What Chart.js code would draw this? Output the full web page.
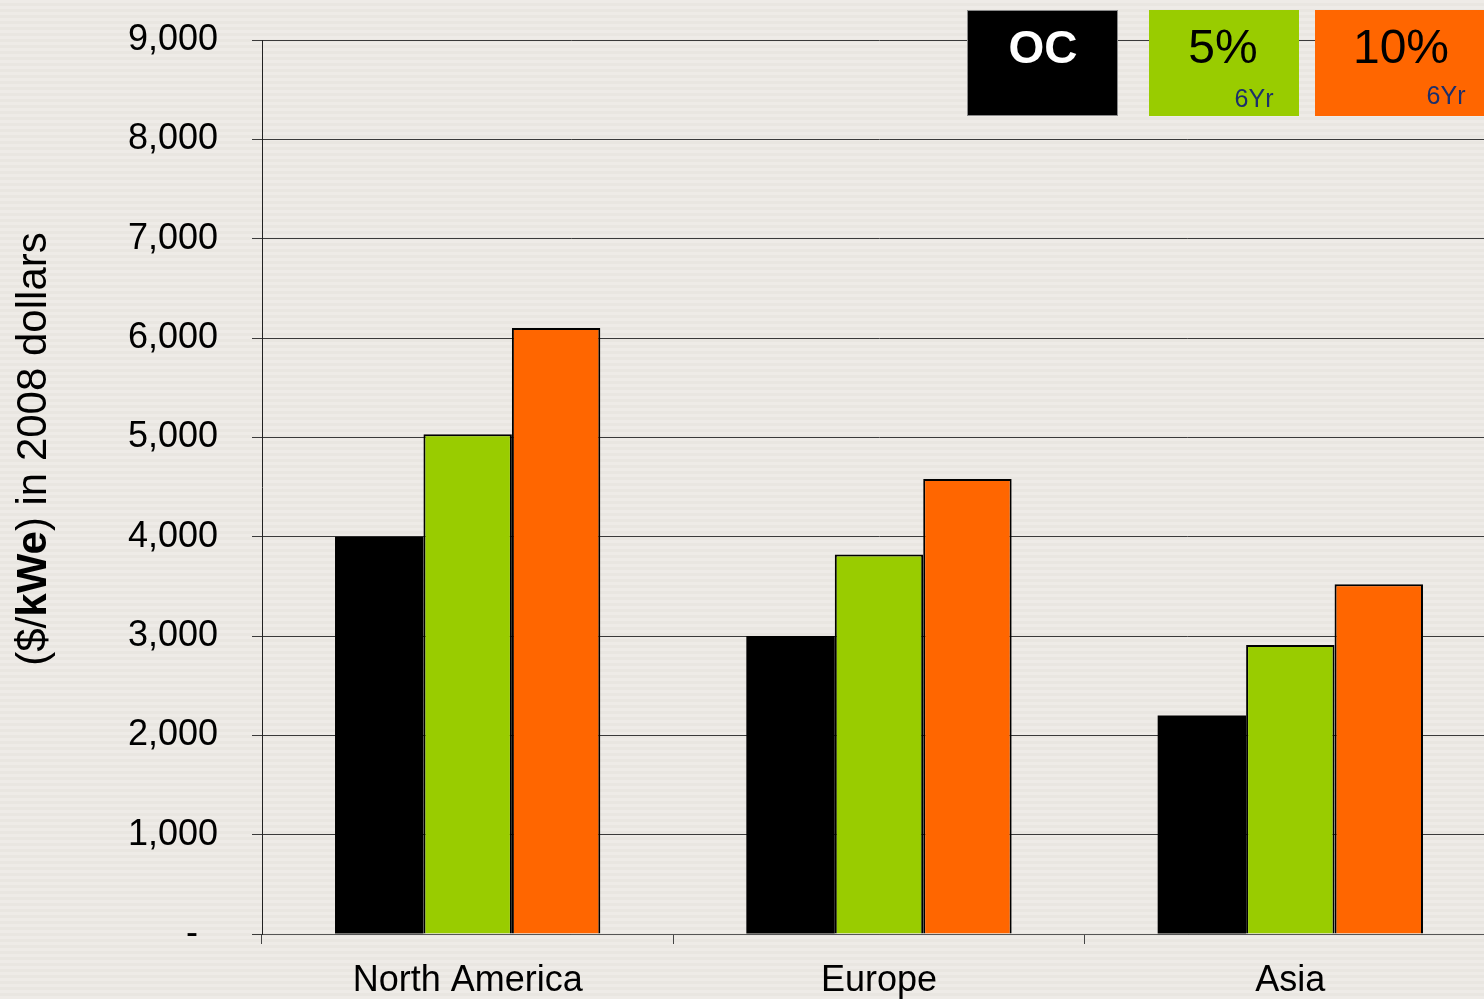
<!DOCTYPE html>
<html>
<head>
<meta charset="utf-8">
<script src="https://cdn.jsdelivr.net/npm/chart.js@4/dist/chart.umd.min.js"></script>
<style>
  html, body { margin: 0; padding: 0; overflow: hidden; }
  body {
    width: 1484px; height: 999px;
    background: repeating-linear-gradient(to bottom, #eeebe7 0px, #eeebe7 3px, #e9e6e1 3px, #e9e6e1 6px);
  }
  #wrap { position: absolute; left: 0; top: 0; width: 1496px; height: 999px; }
</style>
</head>
<body>
<div id="wrap"><canvas id="myChart" width="1496" height="999"></canvas></div>
<script>
const regions = ['North America', 'Europe', 'Asia'];
const ocCost = [4000, 3000, 2200];
const rate5Cost = [5030, 3820, 2910];
const rate10Cost = [6100, 4580, 3520];
const seriesNames = ['OC', '5%', '10%'];
const seriesSub = ['', '6Yr', '6Yr'];
const yTicks = [0, 1000, 2000, 3000, 4000, 5000, 6000, 7000, 8000, 9000];

const FONT = "'Liberation Sans', Arial, sans-serif";

// y title (mixed bold) and the boxed legend at top right
const extras = {
  id: 'extras',
  afterDraw(chart) {
    const ctx = chart.ctx;
    ctx.save();
    // axis title
    ctx.translate(34, 449);
    ctx.rotate(-Math.PI / 2);
    ctx.textBaseline = 'middle';
    const parts = [['($/', 'normal'], ['kWe', 'bold'], [') in 2008 dollars', 'normal']];
    let total = 0;
    parts.forEach(p => { ctx.font = p[1] + ' 42px ' + FONT; total += ctx.measureText(p[0]).width; });
    let x = -total / 2;
    ctx.fillStyle = '#000';
    parts.forEach(p => {
      ctx.font = p[1] + ' 42px ' + FONT;
      ctx.textAlign = 'left';
      ctx.fillText(p[0], x, 0);
      x += ctx.measureText(p[0]).width;
    });
    ctx.restore();

    // legend boxes
    const boxes = [
      { x: 967, w: 151 },
      { x: 1149, w: 150 },
      { x: 1315, w: 190 }
    ];
    ctx.save();
    chart.data.datasets.forEach((ds, i) => {
      const b = boxes[i];
      ctx.fillStyle = ds.backgroundColor;
      ctx.fillRect(b.x, 10, b.w, 106);
      if (i === 0) {
        ctx.strokeStyle = '#8a8a8a';
        ctx.lineWidth = 1;
        ctx.strokeRect(b.x + 0.5, 10.5, b.w - 1, 105);
      }
      ctx.textAlign = 'center';
      ctx.textBaseline = 'middle';
      if (i === 0) {
        ctx.font = 'bold 46px ' + FONT;
        ctx.fillStyle = '#fff';
        ctx.fillText(ds.label, b.x + 76, 50);
      } else {
        ctx.font = '48px ' + FONT;
        ctx.fillStyle = '#000';
        const cx = i === 1 ? 1223 : 1401;
        ctx.fillText(ds.label, cx, 50);
        ctx.font = '25px ' + FONT;
        ctx.fillStyle = '#1c2f6b';
        const sx = i === 1 ? 1254 : 1446;
        const sy = i === 1 ? 100 : 97;
        ctx.fillText(seriesSub[i], sx, sy);
      }
    });
    ctx.restore();
  }
};

const ctx = document.getElementById('myChart').getContext('2d');
const myChart = new Chart(ctx, {
  type: 'bar',
  data: {
    labels: regions,
    datasets: [
      {
        label: seriesNames[0],
        data: ocCost,
        backgroundColor: '#000000',
        borderColor: '#000000',
        borderWidth: 0
      },
      {
        label: seriesNames[1],
        data: rate5Cost,
        backgroundColor: '#99cc00',
        borderColor: '#000000',
        borderWidth: 2
      },
      {
        label: seriesNames[2],
        data: rate10Cost,
        backgroundColor: '#ff6600',
        borderColor: '#000000',
        borderWidth: 2
      }
    ]
  },
  options: {
    responsive: false,
    animation: false,
    layout: { padding: { top: 40, left: 0, right: 0, bottom: 0 } },
    datasets: {
      bar: { categoryPercentage: 0.645, barPercentage: 1.0 }
    },
    plugins: {
      legend: { display: false },
      tooltip: { enabled: false }
    },
    scales: {
      x: {
        offset: true,
        grid: {
          offset: true,
          drawOnChartArea: false,
          tickLength: 10,
          color: '#444'
        },
        border: { color: '#555', width: 1 },
        ticks: {
          color: '#000',
          padding: 15,
          font: { family: FONT, size: 36 }
        },
        afterFit: s => { s.height = 65; s.paddingLeft = 0; s.paddingRight = 0; }
      },
      y: {
        min: 0,
        max: 9000,
        afterBuildTicks: s => { s.ticks = yTicks.map(v => ({ value: v })); },
        grid: {
          color: '#3a3a3a',
          tickLength: 10
        },
        border: { color: '#222', width: 1 },
        ticks: {
          color: '#000',
          padding: 34,
          font: { family: FONT, size: 36 },
          callback: v => v === 0 ? '-  ' : v.toLocaleString('en-US')
        },
        afterFit: s => { s.width = 262; s.paddingTop = 0; s.paddingBottom = 0; }
      }
    }
  },
  plugins: [extras]
});
</script>
</body>
</html>
